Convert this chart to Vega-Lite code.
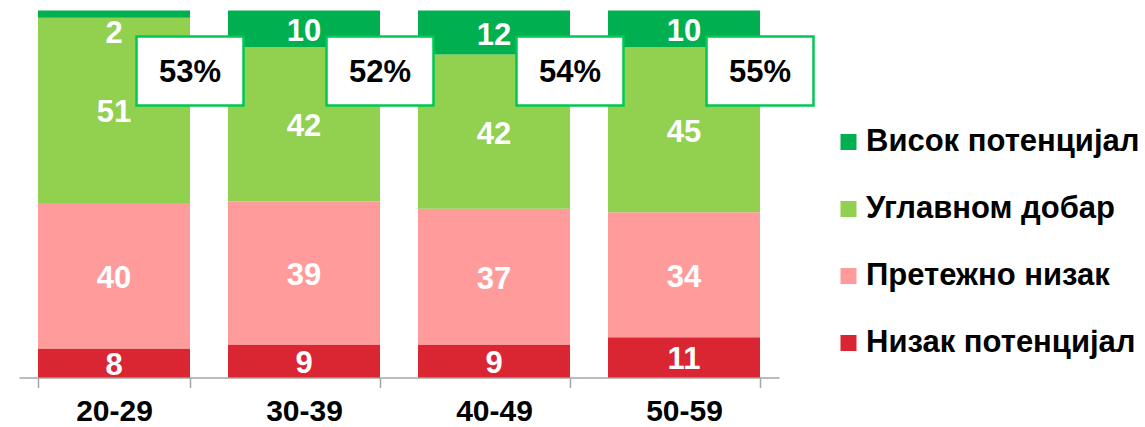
{
  "$schema": "https://vega.github.io/schema/vega-lite/v6.json",
  "width": 760,
  "height": 367,
  "autosize": {"type": "none"},
  "padding": {"left": 19, "top": 10.5, "right": 366, "bottom": 49.5},
  "background": "white",
  "config": {"font": "Liberation Sans", "view": {"stroke": null}},
  "datasets": {
    "bars": [
      {"age": "20-29", "level": "Низак потенцијал", "rank": 1, "value": 8},
      {"age": "20-29", "level": "Претежно низак", "rank": 2, "value": 40},
      {"age": "20-29", "level": "Углавном добар", "rank": 3, "value": 51},
      {"age": "20-29", "level": "Висок потенцијал", "rank": 4, "value": 2},
      {"age": "30-39", "level": "Низак потенцијал", "rank": 1, "value": 9},
      {"age": "30-39", "level": "Претежно низак", "rank": 2, "value": 39},
      {"age": "30-39", "level": "Углавном добар", "rank": 3, "value": 42},
      {"age": "30-39", "level": "Висок потенцијал", "rank": 4, "value": 10},
      {"age": "40-49", "level": "Низак потенцијал", "rank": 1, "value": 9},
      {"age": "40-49", "level": "Претежно низак", "rank": 2, "value": 37},
      {"age": "40-49", "level": "Углавном добар", "rank": 3, "value": 42},
      {"age": "40-49", "level": "Висок потенцијал", "rank": 4, "value": 12},
      {"age": "50-59", "level": "Низак потенцијал", "rank": 1, "value": 11},
      {"age": "50-59", "level": "Претежно низак", "rank": 2, "value": 34},
      {"age": "50-59", "level": "Углавном добар", "rank": 3, "value": 45},
      {"age": "50-59", "level": "Висок потенцијал", "rank": 4, "value": 10}
    ],
    "boxes": [
      {"age": "20-29", "label": "53%"},
      {"age": "30-39", "label": "52%"},
      {"age": "40-49", "label": "54%"},
      {"age": "50-59", "label": "55%"}
    ]
  },
  "encoding": {
    "x": {
      "field": "age",
      "type": "nominal",
      "scale": {"paddingInner": 0.2, "paddingOuter": 0.1},
      "axis": {
        "title": null,
        "labelAngle": 0,
        "labelFontSize": 30,
        "labelFontWeight": "bold",
        "labelColor": "black",
        "labelPadding": 9,
        "domainColor": "#a6a6a6",
        "domainWidth": 1.5,
        "tickColor": "#a6a6a6",
        "tickWidth": 1.5,
        "tickBand": "extent",
        "tickSize": 10
      }
    }
  },
  "layer": [
    {
      "data": {"name": "bars"},
      "mark": {"type": "bar"},
      "encoding": {
        "y": {"field": "value", "type": "quantitative", "stack": "normalize", "axis": null, "scale": {"domain": [0, 1], "nice": false}},
        "color": {
          "field": "level",
          "type": "nominal",
          "scale": {
            "domain": ["Висок потенцијал", "Углавном добар", "Претежно низак", "Низак потенцијал"],
            "range": ["#00b050", "#92d050", "#ff9b9b", "#d92632"]
          },
          "legend": {
            "title": null,
            "orient": "none",
            "legendX": 814,
            "legendY": 116,
            "symbolType": "square",
            "symbolSize": 256,
            "symbolStrokeWidth": 0,
            "labelFontSize": 31,
            "labelFontWeight": "bold",
            "labelColor": "black",
            "labelLimit": 400,
            "labelOffset": 2,
            "rowPadding": 35
          }
        },
        "order": {"field": "rank", "type": "quantitative"}
      }
    },
    {
      "data": {"name": "bars"},
      "transform": [
        {"stack": "value", "groupby": ["age"], "sort": [{"field": "rank", "order": "ascending"}], "offset": "normalize", "as": ["y0", "y1"]},
        {"calculate": "(datum.y0 + datum.y1) / 2", "as": "mid"},
        {"filter": "datum.value >= 5"}
      ],
      "mark": {"type": "text", "color": "white", "fontWeight": "bold", "fontSize": 31, "baseline": "middle", "dy": 3},
      "encoding": {
        "y": {"field": "mid", "type": "quantitative", "axis": null},
        "text": {"field": "value", "type": "quantitative"}
      }
    },
    {
      "data": {"name": "bars"},
      "transform": [
        {"stack": "value", "groupby": ["age"], "sort": [{"field": "rank", "order": "ascending"}], "offset": "normalize", "as": ["y0", "y1"]},
        {"filter": "datum.value < 5"}
      ],
      "mark": {"type": "text", "color": "white", "fontWeight": "bold", "fontSize": 31, "baseline": "top", "dy": 8},
      "encoding": {
        "y": {"field": "y1", "type": "quantitative", "axis": null},
        "text": {"field": "value", "type": "quantitative"}
      }
    },
    {
      "data": {"name": "boxes"},
      "mark": {
        "type": "point",
        "shape": "M-1,-0.645H1V0.645H-1Z",
        "size": 11449,
        "filled": true,
        "fill": "white",
        "stroke": "#00c853",
        "strokeWidth": 2.5,
        "opacity": 1
      },
      "encoding": {
        "x": {"field": "age", "type": "nominal", "bandPosition": 1},
        "y": {"datum": 0.835, "type": "quantitative"}
      }
    },
    {
      "data": {"name": "boxes"},
      "mark": {"type": "text", "color": "black", "fontWeight": "bold", "fontSize": 31, "baseline": "middle", "dy": 2},
      "encoding": {
        "x": {"field": "age", "type": "nominal", "bandPosition": 1},
        "y": {"datum": 0.835, "type": "quantitative"},
        "text": {"field": "label", "type": "nominal"}
      }
    }
  ]
}
